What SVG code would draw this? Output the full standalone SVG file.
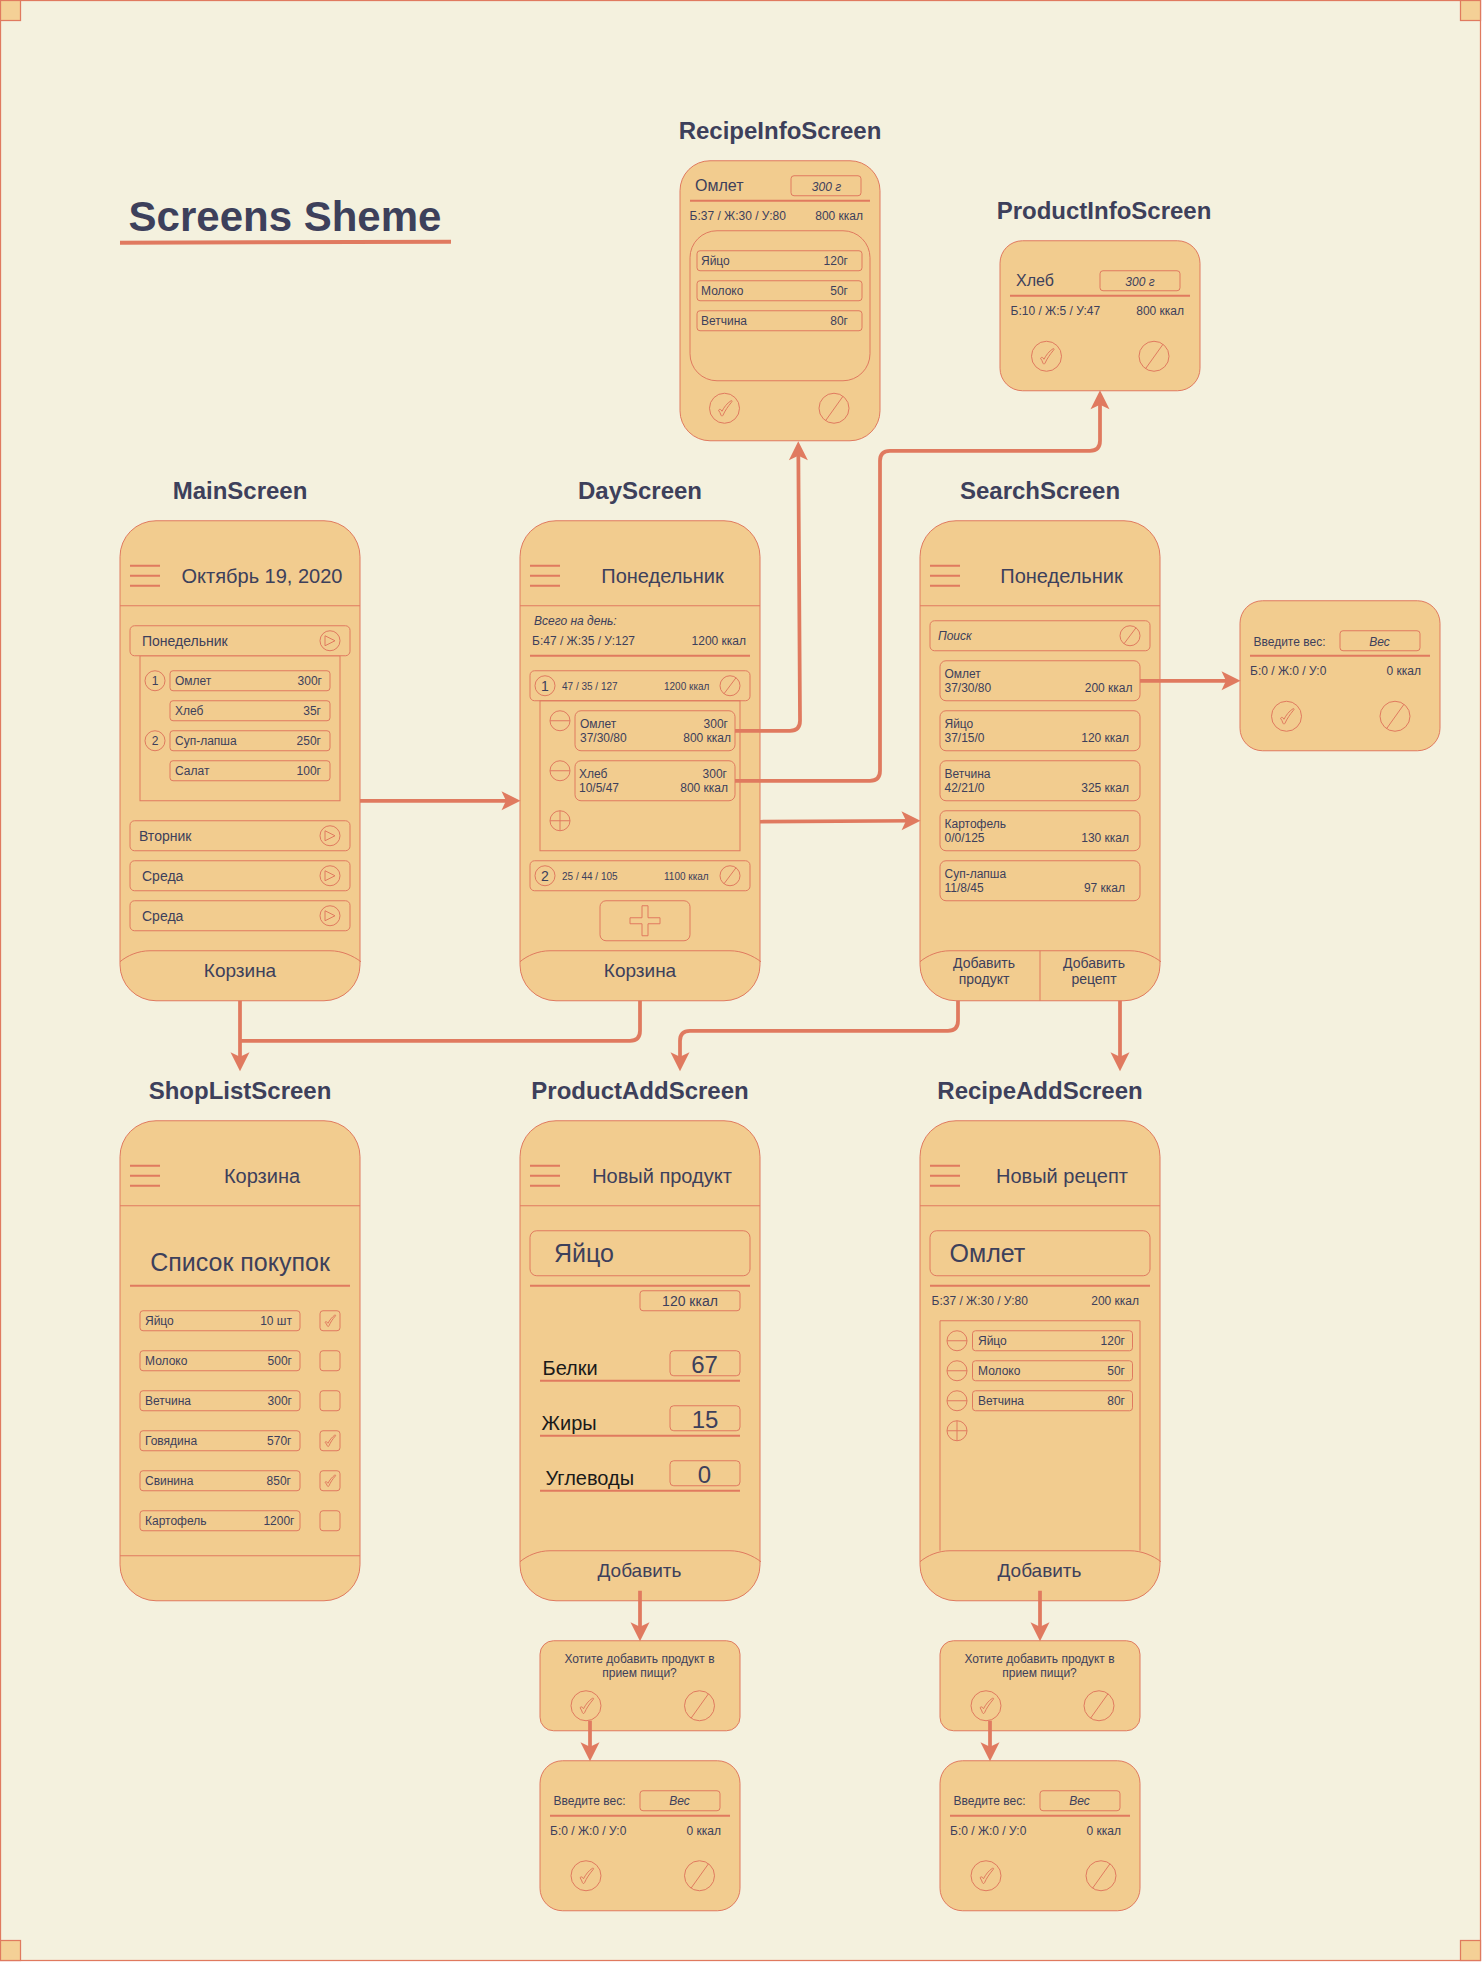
<svg xmlns="http://www.w3.org/2000/svg" xmlns:xlink="http://www.w3.org/1999/xlink" width="1482" height="1962" viewBox="0 0 1482 1962">
<style>
text{font-family:"Liberation Sans",Arial,Helvetica,sans-serif;fill:#3D405B}
.b{fill:#F2CC8F;stroke:#E07A5F;stroke-width:1}
.n{fill:none;stroke:#E07A5F;stroke-width:1}
.l{fill:none;stroke:#E07A5F;stroke-width:2}
.c{fill:none;stroke:#E07A5F;stroke-width:3.75;stroke-linejoin:round}
.h{font-size:24px;font-weight:bold;text-anchor:middle}
.s10{font-size:10px}.s12{font-size:12px}.s14{font-size:14px}.s16{font-size:16px}.s19{font-size:19px}.s20{font-size:20px}.s24{font-size:24px}.s25{font-size:25px}
.e{text-anchor:end}.m{text-anchor:middle}.i{font-style:italic}.k{fill:#1A1A1A}
</style>
<defs>
<marker id="arr" markerUnits="userSpaceOnUse" markerWidth="20" markerHeight="20" viewBox="0 0 20 20" refX="13" refY="10" orient="auto"><path d="M19.500,10 L.5,.5 L5,10 L.5,19.500 Z" fill="#E07A5F"/></marker>
<g id="menu"><path class="l" d="M0,0H30M0,10H30M0,20H30"/></g>
<g id="play"><circle class="n" r="10"/><path class="n" d="M-5,-5L5,0L-5,5Z"/></g>
<g id="del"><circle class="n" r="10"/><path class="n" d="M-6,8L6,-8"/></g>
<g id="del15"><circle class="n" r="15"/><path class="n" d="M-8.5,12.5L9,-12"/></g>
<g id="ok15"><circle class="n" r="15"/><path class="n" d="M-6,2C-5,.5-3.5,1-2.5,3C-.5-1 2.5-5 6.5-7.5C7.5-8 8-7 7-6C3.5-2 .5,2.5-1.5,7C-2,8-3,8-3.5,7C-4,5-5,3.5-6,2Z"/></g>
<g id="ok"><path class="n" d="M-5,1.5C-4,.5-3,1-2,2.5C-.5-.5 2-3.5 4.5-5.5C5.5-6 6-5.5 5.3-4.7C2.5-1.5 .5,1.5-1,5C-1.5,6-2.3,6-2.7,5C-3.2,3.8-4,2.5-5,1.5Z"/></g>
<g id="minus"><circle class="n" r="10"/><path class="n" d="M-10,0H10"/></g>
<g id="plus"><circle class="n" r="10"/><path class="n" d="M-10,0H10M0,-10V10"/></g>
</defs>

<g id="page">
<rect x="0.500" y="0.500" width="1480" height="1960" fill="#F4F1DE" stroke="#E07A5F" stroke-width="1.25"/>
<g fill="#F4D096" stroke="#E07A5F" stroke-width="1.25">
<rect x="0.500" y="0.500" width="20" height="20"/><rect x="1460.500" y="0.500" width="20" height="20"/><rect x="0.500" y="1940.500" width="20" height="20"/><rect x="1460.500" y="1940.500" width="20" height="20"/>
</g>
</g>
<g id="diagram" transform="translate(0,.75)">
<g id="title"><text x="285" y="230" font-size="42" font-weight="bold" text-anchor="middle">Screens Sheme</text><path d="M120,242L451,241" fill="none" stroke="#E07A5F" stroke-width="4"/></g>

<g id="MainScreen">
<text class="h" x="240" y="498">MainScreen</text>
<rect class="b" x="120" y="520" width="240" height="480" rx="36"/>
<use href="#menu" x="130" y="565"/><path class="n" d="M120,605H360"/>
<text class="s20 m" x="262" y="582">Октябрь 19, 2020</text>
<rect class="n" x="140" y="655" width="200" height="145"/>
<rect class="b" x="130" y="625" width="220" height="30" rx="4.500"/>
<text class="s14" x="142" y="645">Понедельник</text><use href="#play" x="330" y="640"/>
<circle class="n" cx="155" cy="680" r="10"/><text class="s12 m" x="155" y="684">1</text>
<circle class="n" cx="155" cy="740" r="10"/><text class="s12 m" x="155" y="744">2</text>
<rect class="n" x="170" y="670" width="160" height="20" rx="3"/><text class="s12" x="175" y="684">Омлет</text><text class="s12 e" x="322" y="684">300г</text>
<rect class="n" x="170" y="700" width="160" height="20" rx="3"/><text class="s12" x="175" y="714">Хлеб</text><text class="s12 e" x="321" y="714">35г</text>
<rect class="n" x="170" y="730" width="160" height="20" rx="3"/><text class="s12" x="175" y="744">Суп-лапша</text><text class="s12 e" x="321" y="744">250г</text>
<rect class="n" x="170" y="760" width="160" height="20" rx="3"/><text class="s12" x="175" y="774">Салат</text><text class="s12 e" x="321" y="774">100г</text>
<rect class="n" x="130" y="820" width="220" height="30" rx="4.500"/><text class="s14" x="139" y="840">Вторник</text><use href="#play" x="330" y="835"/>
<rect class="n" x="130" y="860" width="220" height="30" rx="4.500"/><text class="s14" x="142" y="880">Среда</text><use href="#play" x="330" y="875"/>
<rect class="n" x="130" y="900" width="220" height="30" rx="4.500"/><text class="s14" x="142" y="920">Среда</text><use href="#play" x="330" y="915"/>
<path class="n" d="M120,961C127,955 138,950 150,950H330C342,950 353,955 361,961"/>
<text class="s19 m" x="240" y="976">Корзина</text>
</g>

<g id="DayScreen">
<text class="h" x="640" y="498">DayScreen</text>
<rect class="b" x="520" y="520" width="240" height="480" rx="36"/>
<use href="#menu" x="530" y="565"/><path class="n" d="M520,605H760"/>
<text class="s20 m" x="662.500" y="582">Понедельник</text>
<text class="s12 i" x="534" y="624">Всего на день:</text>
<text class="s12" x="532" y="644">Б:47 / Ж:35 / У:127</text><text class="s12 e" x="746" y="644">1200 ккал</text>
<path class="l" d="M530,655H750"/>
<rect class="n" x="540" y="700" width="200" height="150"/>
<rect class="n" x="530" y="670" width="220" height="30" rx="4.500"/>
<circle class="n" cx="545" cy="685" r="10"/><text class="s14 m" x="545" y="690">1</text>
<text class="s10" x="562" y="689">47 / 35 / 127</text><text class="s10" x="664" y="689">1200 ккал</text><use href="#del" x="730" y="685"/>
<use href="#minus" x="560" y="720"/>
<rect class="n" x="575" y="710" width="160" height="40" rx="6"/>
<text class="s12" x="580" y="727">Омлет</text><text class="s12" x="580" y="741">37/30/80</text><text class="s12 e" x="728" y="727">300г</text><text class="s12 e" x="731" y="741">800 ккал</text>
<use href="#minus" x="560" y="770"/>
<rect class="n" x="575" y="760" width="160" height="40" rx="6"/>
<text class="s12" x="579" y="777">Хлеб</text><text class="s12" x="579" y="791">10/5/47</text><text class="s12 e" x="727" y="777">300г</text><text class="s12 e" x="728" y="791">800 ккал</text>
<use href="#plus" x="560" y="820"/>
<rect class="n" x="530" y="860" width="220" height="30" rx="4.500"/>
<circle class="n" cx="545" cy="875" r="10"/><text class="s14 m" x="545" y="880">2</text>
<text class="s10" x="562" y="879">25 / 44 / 105</text><text class="s10" x="664" y="879">1100 ккал</text><use href="#del" x="730" y="875"/>
<rect class="n" x="600" y="900" width="90" height="40" rx="6"/>
<path class="n" d="M642,905H648V917H660V923H648V935H642V923H630V917H642Z"/>
<path class="n" d="M520,961C527,955 538,950 550,950H730C742,950 753,955 761,961"/>
<text class="s19 m" x="640" y="976">Корзина</text>
</g>

<g id="SearchScreen">
<text class="h" x="1040" y="498">SearchScreen</text>
<rect class="b" x="920" y="520" width="240" height="480" rx="36"/>
<use href="#menu" x="930" y="565"/><path class="n" d="M920,605H1160"/>
<text class="s20 m" x="1061.500" y="582">Понедельник</text>
<rect class="n" x="930" y="620" width="220" height="30" rx="4.500"/><text class="s12 i" x="938" y="639">Поиск</text><use href="#del" x="1130" y="635"/>
<rect class="n" x="940" y="660" width="200" height="40" rx="6"/><text class="s12" x="944.500" y="677">Омлет</text><text class="s12" x="944.500" y="691">37/30/80</text><text class="s12 e" x="1132.500" y="691">200 ккал</text>
<rect class="n" x="940" y="710" width="200" height="40" rx="6"/><text class="s12" x="944.500" y="727">Яйцо</text><text class="s12" x="944.500" y="741">37/15/0</text><text class="s12 e" x="1129" y="741">120 ккал</text>
<rect class="n" x="940" y="760" width="200" height="40" rx="6"/><text class="s12" x="944.500" y="777">Ветчина</text><text class="s12" x="944.500" y="791">42/21/0</text><text class="s12 e" x="1129" y="791">325 ккал</text>
<rect class="n" x="940" y="810" width="200" height="40" rx="6"/><text class="s12" x="944.500" y="827">Картофель</text><text class="s12" x="944.500" y="841">0/0/125</text><text class="s12 e" x="1129" y="841">130 ккал</text>
<rect class="n" x="940" y="860" width="200" height="40" rx="6"/><text class="s12" x="944.500" y="877">Суп-лапша</text><text class="s12" x="944.500" y="891">11/8/45</text><text class="s12 e" x="1125" y="891">97 ккал</text>
<path class="n" d="M920,961C927,955 938,950 950,950H1130C1142,950 1153,955 1161,961"/><path class="n" d="M1040,950V1000"/>
<text class="s14 m" x="984" y="967">Добавить</text><text class="s14 m" x="984" y="983">продукт</text>
<text class="s14 m" x="1094" y="967">Добавить</text><text class="s14 m" x="1094" y="983">рецепт</text>
</g>

<g id="RecipeInfoScreen">
<text class="h" x="780" y="138">RecipeInfoScreen</text>
<rect class="b" x="680" y="160" width="200" height="280" rx="30"/>
<text class="s16" x="695" y="190">Омлет</text>
<rect class="n" x="791" y="175" width="70" height="20" rx="3"/><text class="s12 i m" x="826.500" y="190">300 г</text>
<path class="l" d="M690,200H870"/>
<text class="s12" x="689.500" y="219">Б:37 / Ж:30 / У:80</text><text class="s12 e" x="863" y="219">800 ккал</text>
<rect class="n" x="690" y="230" width="180" height="150" rx="27"/>
<rect class="n" x="697" y="250" width="165" height="20" rx="3"/><text class="s12" x="701" y="264">Яйцо</text><text class="s12 e" x="848" y="264">120г</text>
<rect class="n" x="697" y="280" width="165" height="20" rx="3"/><text class="s12" x="701" y="294">Молоко</text><text class="s12 e" x="848" y="294">50г</text>
<rect class="n" x="697" y="310" width="165" height="20" rx="3"/><text class="s12" x="701" y="324">Ветчина</text><text class="s12 e" x="848" y="324">80г</text>
<use href="#ok15" x="724.500" y="407.500"/><use href="#del15" x="834" y="407.500"/>
</g>

<g id="ProductInfoScreen">
<text class="h" x="1104" y="218">ProductInfoScreen</text>
<rect class="b" x="1000" y="240" width="200" height="150" rx="22.500"/>
<text class="s16" x="1016" y="285">Хлеб</text>
<rect class="n" x="1100" y="270" width="80" height="20" rx="3"/><text class="s12 i m" x="1140" y="285">300 г</text>
<path class="l" d="M1010,295H1190"/>
<text class="s12" x="1010.500" y="314">Б:10 / Ж:5 / У:47</text><text class="s12 e" x="1184" y="314">800 ккал</text>
<use href="#ok15" x="1046.500" y="355.500"/><use href="#del15" x="1154" y="355.500"/>
</g>

<g id="WeightDialogSearch">
<rect class="b" x="1240" y="600" width="200" height="150" rx="22.500"/>
<text class="s12" x="1253.500" y="645">Введите вес:</text>
<rect class="n" x="1340" y="630" width="80" height="20" rx="3"/><text class="s12 i m" x="1379.500" y="645">Вес</text>
<path class="l" d="M1250,655H1430"/>
<text class="s12" x="1250" y="674">Б:0 / Ж:0 / У:0</text><text class="s12 e" x="1421" y="674">0 ккал</text>
<use href="#ok15" x="1286.500" y="715.500"/><use href="#del15" x="1395" y="715.500"/>
</g>

<g id="ShopListScreen">
<text class="h" x="240" y="1098">ShopListScreen</text>
<rect class="b" x="120" y="1120" width="240" height="480" rx="36"/>
<use href="#menu" x="130" y="1165"/><path class="n" d="M120,1205H360"/>
<text class="s20 m" x="262" y="1182">Корзина</text>
<text class="s25 m" x="240" y="1270">Список покупок</text>
<path class="l" d="M130,1285H350"/>
<rect class="n" x="140" y="1310" width="160" height="20" rx="3"/><text class="s12" x="145" y="1324">Яйцо</text><text class="s12 e" x="292" y="1324">10 шт</text>
<rect class="n" x="140" y="1350" width="160" height="20" rx="3"/><text class="s12" x="145" y="1364">Молоко</text><text class="s12 e" x="292" y="1364">500г</text>
<rect class="n" x="140" y="1390" width="160" height="20" rx="3"/><text class="s12" x="145" y="1404">Ветчина</text><text class="s12 e" x="292" y="1404">300г</text>
<rect class="n" x="140" y="1430" width="160" height="20" rx="3"/><text class="s12" x="145" y="1444">Говядина</text><text class="s12 e" x="291.500" y="1444">570г</text>
<rect class="n" x="140" y="1470" width="160" height="20" rx="3"/><text class="s12" x="145" y="1484">Свинина</text><text class="s12 e" x="291" y="1484">850г</text>
<rect class="n" x="140" y="1510" width="160" height="20" rx="3"/><text class="s12" x="145" y="1524">Картофель</text><text class="s12 e" x="294.500" y="1524">1200г</text>
<rect class="n" x="320" y="1310" width="20" height="20" rx="3"/><use href="#ok" x="330" y="1320"/>
<rect class="n" x="320" y="1350" width="20" height="20" rx="3"/>
<rect class="n" x="320" y="1390" width="20" height="20" rx="3"/>
<rect class="n" x="320" y="1430" width="20" height="20" rx="3"/><use href="#ok" x="330" y="1440"/>
<rect class="n" x="320" y="1470" width="20" height="20" rx="3"/><use href="#ok" x="330" y="1480"/>
<rect class="n" x="320" y="1510" width="20" height="20" rx="3"/>
<path class="n" d="M120,1555H360"/>
</g>

<g id="ProductAddScreen">
<text class="h" x="640" y="1098">ProductAddScreen</text>
<rect class="b" x="520" y="1120" width="240" height="480" rx="36"/>
<use href="#menu" x="530" y="1165"/><path class="n" d="M520,1205H760"/>
<text class="s20 m" x="662" y="1182">Новый продукт</text>
<rect class="n" x="530" y="1230" width="220" height="45" rx="6.750"/><text class="s25" x="554" y="1261">Яйцо</text>
<path class="l" d="M530,1285H750"/>
<rect class="n" x="640" y="1290" width="100" height="20" rx="3"/><text class="s14 m" x="690" y="1305">120 ккал</text>
<text class="s20 k" x="542.500" y="1374">Белки</text><rect class="n" x="670" y="1350" width="70" height="25" rx="3.750"/><text class="s24 m" x="704.500" y="1372">67</text><path class="l" d="M540,1380H740"/>
<text class="s20 k" x="541.500" y="1429">Жиры</text><rect class="n" x="670" y="1405" width="70" height="25" rx="3.750"/><text class="s24 m" x="705" y="1427">15</text><path class="l" d="M540,1435H740"/>
<text class="s20 k" x="545.500" y="1484">Углеводы</text><rect class="n" x="670" y="1460" width="70" height="25" rx="3.750"/><text class="s24 m" x="704.500" y="1482">0</text><path class="l" d="M540,1490H740"/>
<path class="n" d="M520,1561C527,1555 538,1550 550,1550H730C742,1550 753,1555 761,1561"/>
<text class="s19 m" x="639.500" y="1576">Добавить</text>
</g>

<g id="RecipeAddScreen">
<text class="h" x="1040" y="1098">RecipeAddScreen</text>
<rect class="b" x="920" y="1120" width="240" height="480" rx="36"/>
<use href="#menu" x="930" y="1165"/><path class="n" d="M920,1205H1160"/>
<text class="s20 m" x="1062" y="1182">Новый рецепт</text>
<rect class="n" x="930" y="1230" width="220" height="45" rx="6.750"/><text class="s25" x="949.500" y="1261">Омлет</text>
<path class="l" d="M930,1285H1150"/>
<text class="s12" x="931.500" y="1304">Б:37 / Ж:30 / У:80</text><text class="s12 e" x="1139" y="1304">200 ккал</text>
<path class="n" d="M940,1550V1320H1140V1550"/>
<use href="#minus" x="957" y="1340"/><rect class="n" x="972.500" y="1330" width="160" height="20" rx="3"/><text class="s12" x="978" y="1344">Яйцо</text><text class="s12 e" x="1125" y="1344">120г</text>
<use href="#minus" x="957" y="1370"/><rect class="n" x="972.500" y="1360" width="160" height="20" rx="3"/><text class="s12" x="978" y="1374">Молоко</text><text class="s12 e" x="1125" y="1374">50г</text>
<use href="#minus" x="957" y="1400"/><rect class="n" x="972.500" y="1390" width="160" height="20" rx="3"/><text class="s12" x="978" y="1404">Ветчина</text><text class="s12 e" x="1125" y="1404">80г</text>
<use href="#plus" x="957" y="1430"/>
<path class="n" d="M920,1561C927,1555 938,1550 950,1550H1130C1142,1550 1153,1555 1161,1561"/>
<text class="s19 m" x="1039.500" y="1576">Добавить</text>
</g>

<g id="ConfirmDialogProduct">
<rect class="b" x="540" y="1640" width="200" height="90" rx="13.500"/>
<text class="s12 m" x="639.500" y="1662">Хотите добавить продукт в</text><text class="s12 m" x="639.500" y="1676">прием пищи?</text>
<use href="#ok15" x="586" y="1705"/><use href="#del15" x="699.500" y="1705"/>
</g>
<g id="WeightDialogProduct">
<rect class="b" x="540" y="1760" width="200" height="150" rx="22.500"/>
<text class="s12" x="553.500" y="1804">Введите вес:</text>
<rect class="n" x="640" y="1790" width="80" height="20" rx="3"/><text class="s12 i m" x="679.500" y="1804">Вес</text>
<path class="l" d="M550,1815H730"/>
<text class="s12" x="550" y="1834">Б:0 / Ж:0 / У:0</text><text class="s12 e" x="721" y="1834">0 ккал</text>
<use href="#ok15" x="586" y="1875"/><use href="#del15" x="699.500" y="1875"/>
</g>
<g id="ConfirmDialogRecipe">
<rect class="b" x="940" y="1640" width="200" height="90" rx="13.500"/>
<text class="s12 m" x="1039.500" y="1662">Хотите добавить продукт в</text><text class="s12 m" x="1039.500" y="1676">прием пищи?</text>
<use href="#ok15" x="986" y="1705"/><use href="#del15" x="1099" y="1705"/>
</g>
<g id="WeightDialogRecipe">
<rect class="b" x="940" y="1760" width="200" height="150" rx="22.500"/>
<text class="s12" x="953.500" y="1804">Введите вес:</text>
<rect class="n" x="1040" y="1790" width="80" height="20" rx="3"/><text class="s12 i m" x="1079.500" y="1804">Вес</text>
<path class="l" d="M950,1815H1130"/>
<text class="s12" x="950" y="1834">Б:0 / Ж:0 / У:0</text><text class="s12 e" x="1121" y="1834">0 ккал</text>
<use href="#ok15" x="986" y="1875"/><use href="#del15" x="1101" y="1875"/>
</g>

<g id="connectors">
<path class="c" marker-end="url(#arr)" d="M360,800H514"/>
<path class="c" marker-end="url(#arr)" d="M760,821L914,820"/>
<path class="c" marker-end="url(#arr)" d="M735,730H790Q800,730 800,720L798.300,447"/>
<path class="c" marker-end="url(#arr)" d="M735,780H870Q880,780 880,770V460Q880,450 890,450H1090Q1100,450 1100,440V396"/>
<path class="c" marker-end="url(#arr)" d="M1140,680H1234"/>
<path class="c" marker-end="url(#arr)" d="M240,1000V1064"/>
<path class="c" d="M640,1000V1030Q640,1040 630,1040H240"/>
<path class="c" marker-end="url(#arr)" d="M958,1000V1020Q958,1030 948,1030H690Q680,1030 680,1040V1064"/>
<path class="c" marker-end="url(#arr)" d="M1120,1000V1064"/>
<path class="c" marker-end="url(#arr)" d="M640,1590V1634"/>
<path class="c" marker-end="url(#arr)" d="M1040,1590V1634"/>
<path class="c" marker-end="url(#arr)" d="M590,1720V1754"/>
<path class="c" marker-end="url(#arr)" d="M990,1720V1754"/>
</g>
</g>
</svg>
